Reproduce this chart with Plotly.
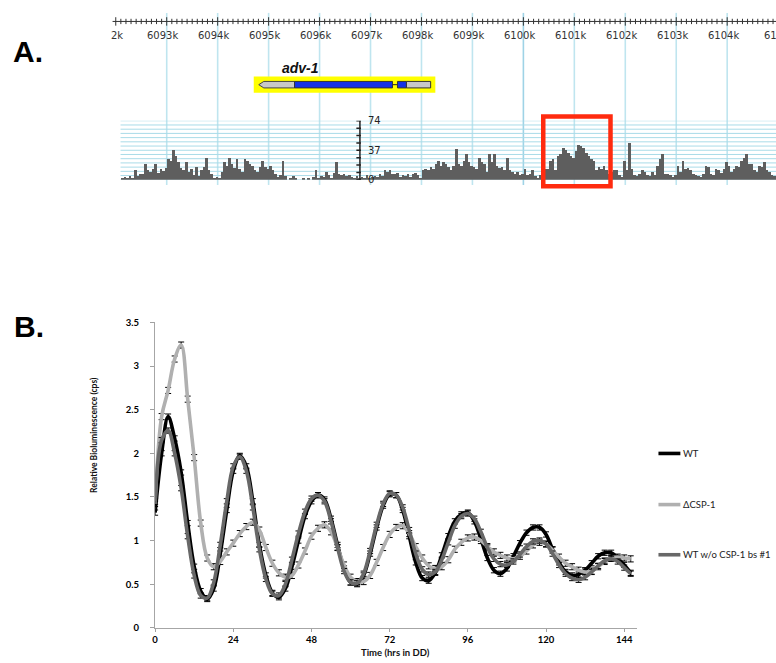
import plotly.graph_objects as go

W, H = 776, 663


def fx(p):
    return p / W


def fy(p):
    return 1 - p / H


# ---------------- Panel A data ----------------
ruler_label_kb = list(range(6093, 6105))
gene_name = "adv-1"
highlight_kb = [6094.708, 6098.272]
utr_left_kb = [6094.806, 6095.509]
exon1_kb = [6095.509, 6097.431]
exon2_kb = [6097.529, 6097.705]
utr_right_kb = [6097.705, 6098.180]
peak_box_kb = [6100.39, 6101.71]

hist_start_kb = 6092.1
hist_bin_kb = 0.05
hist_max = 74
hist_scale_labels = [74, 37, 0]
hist_counts = [
    3, 4, 2, 5, 3, 12, 5, 8, 7, 20,
    12, 10, 14, 20, 9, 14, 11, 15, 26, 24,
    38, 30, 22, 15, 12, 22, 10, 14, 6, 16,
    5, 12, 16, 27, 12, 8, 3, 4, 2, 10,
    22, 18, 27, 20, 15, 26, 14, 10, 26, 24,
    20, 18, 12, 10, 16, 24, 16, 14, 18, 12,
    8, 4, 6, 24, 5, 0, 2, 5, 3, 0,
    0, 3, 0, 2, 0, 4, 12, 3, 5, 4,
    10, 6, 3, 9, 22, 8, 6, 8, 5, 6,
    4, 3, 5, 2, 4, 3, 6, 3, 4, 5,
    4, 8, 5, 12, 10, 12, 7, 8, 9, 4,
    6, 5, 7, 4, 8, 9, 6, 3, 12, 14,
    12, 16, 14, 20, 24, 18, 22,
    20, 16, 12, 18, 39, 20, 18, 24, 32, 22,
    18, 16, 14, 27, 22, 20, 10, 32, 22, 32,
    18, 15, 16, 12, 28, 12, 10, 8, 10, 6,
    8, 14, 6, 8, 12, 5, 3, 6, 8, 14,
    14, 24, 26, 12, 30, 32, 40, 38, 34, 30,
    28, 36, 44, 43, 40, 34, 30, 26, 24, 12,
    16, 14, 18, 12, 8, 10, 12, 12, 6, 4,
    24, 12, 47, 14, 6, 5, 8, 12, 10, 6,
    5, 10, 6, 18, 26, 32, 8, 7, 6, 4,
    6, 18, 10, 24, 14, 15, 12, 8, 6, 5,
    4, 8, 18, 16, 8, 6, 14, 12, 9, 14,
    22, 18, 10, 14, 18, 16, 24, 28, 32, 20,
    20, 12, 10, 18, 16, 22, 12, 10, 6, 5,
]

# ---------------- Panel B data ----------------
hours = list(range(0, 147, 2))
x_ticks = [0, 24, 48, 72, 96, 120, 144]
series_names = ["WT", "\u0394CSP-1", "WT w/o CSP-1 bs #1"]
wt = [1.32, 2.00, 2.42, 2.17, 1.78, 1.20, 0.70, 0.42, 0.33, 0.45,
      0.85, 1.35, 1.80, 1.97, 1.85, 1.45, 0.95, 0.60, 0.40, 0.35,
      0.45, 0.70, 1.00, 1.28, 1.45, 1.52, 1.47, 1.25, 0.95, 0.68,
      0.52, 0.50, 0.60, 0.85, 1.15, 1.40, 1.53, 1.52, 1.35, 1.05,
      0.75, 0.57, 0.54, 0.63, 0.83, 1.05, 1.22, 1.30, 1.32, 1.22,
      1.02, 0.80, 0.66, 0.62, 0.68, 0.82, 0.97, 1.09, 1.15, 1.15,
      1.07, 0.90, 0.75, 0.64, 0.60, 0.61, 0.66, 0.74, 0.82, 0.86,
      0.86, 0.80, 0.72, 0.63]
dcsp = [1.45, 2.42, 2.72, 3.08, 3.24, 2.62, 1.95, 1.20, 0.80, 0.70,
        0.76, 0.87, 0.97, 1.08, 1.16, 1.21, 1.12, 0.92, 0.74, 0.63,
        0.58, 0.60, 0.72, 0.88, 1.05, 1.14, 1.18, 1.10, 0.92, 0.72,
        0.58, 0.53, 0.53, 0.60, 0.75, 0.92, 1.07, 1.15, 1.17, 1.08,
        0.93, 0.80, 0.71, 0.68, 0.70, 0.78, 0.90, 0.98, 1.03, 1.04,
        1.00, 0.93, 0.87, 0.83, 0.80, 0.79, 0.82, 0.88, 0.95, 0.98,
        0.96, 0.89, 0.81, 0.74, 0.70, 0.66, 0.64, 0.65, 0.70, 0.76,
        0.80, 0.81, 0.80, 0.79]
bs1 = [1.42, 2.15, 2.26, 2.00, 1.60, 1.05, 0.60, 0.37, 0.34, 0.52,
       0.95, 1.45, 1.85, 1.96, 1.80, 1.38, 0.90, 0.56, 0.39, 0.37,
       0.50, 0.78, 1.08, 1.33, 1.48, 1.52, 1.45, 1.22, 0.92, 0.65,
       0.52, 0.51, 0.62, 0.88, 1.18, 1.42, 1.54, 1.52, 1.38, 1.12,
       0.85, 0.67, 0.61, 0.64, 0.78, 0.98, 1.17, 1.28, 1.31, 1.25,
       1.10, 0.92, 0.79, 0.73, 0.72, 0.76, 0.84, 0.93, 0.99, 1.00,
       0.96, 0.85, 0.72, 0.62, 0.57, 0.55, 0.58, 0.64, 0.71, 0.77,
       0.79, 0.76, 0.69, 0.62]
err_wt = 0.03
err_dcsp = 0.035
err_bs1 = 0.03

assert len(wt) == len(hours) == len(dcsp) == len(bs1)

# ---------------- styles ----------------
C_WT, C_DCSP, C_BS1 = "#000000", "#b0b0b0", "#686868"
GRID_V = "#bfe5ef"
GRID_H = "#a9dbe8"
GENE_GRAY = "#c8c8c8"
GENE_BLUE = "#1432e6"
FONT_B = "Lato"
RULER_FONT = dict(family="DejaVu Sans", size=10, color="#333333")

# panel A pixel scale (layout only)
KB0, PX0, PX_PER_KB = 6092.0, 113.2, 51.15


def kb_at(p):
    return KB0 + (p - PX0) / PX_PER_KB


fig = go.Figure()

# histogram bars
fig.add_trace(go.Bar(
    x=[hist_start_kb + hist_bin_kb * (i + 0.5) for i in range(len(hist_counts))],
    y=hist_counts, width=hist_bin_kb,
    marker=dict(color="#5e5e5e", line=dict(width=0)),
    xaxis="x2", yaxis="y2", showlegend=False, hoverinfo="skip",
))

colors = [C_WT, C_DCSP, C_BS1]
errs = [err_wt, err_dcsp, err_bs1]
for name, ys, col, er in zip(series_names, [wt, dcsp, bs1], colors, errs):
    fig.add_trace(go.Scatter(
        x=hours, y=ys, name=name, mode="lines",
        line=dict(color=col, width=3.6, shape="spline", smoothing=1.0),
        error_y=dict(type="constant", value=er, color="#000000", thickness=1, width=3),
        xaxis="x", yaxis="y", showlegend=False,
    ))

shapes = []
# vertical kb lines
for k in ruler_label_kb:
    shapes.append(dict(type="line", xref="x2", yref="paper", x0=k, x1=k,
                       y0=fy(7), y1=fy(182), layer="below",
                       line=dict(color="#9fd3e6" if k == 6100 else GRID_V, width=1.6)))
# horizontal histogram grid
n_h = 14
for i in range(n_h + 1):
    v = hist_max * i / n_h
    shapes.append(dict(type="line", xref="paper", yref="y2", x0=fx(118), x1=1,
                       y0=v, y1=v, layer="below", line=dict(color=GRID_H, width=1)))
# ruler
shapes.append(dict(type="line", xref="paper", yref="paper", x0=fx(110), x1=1,
                   y0=fy(15.7), y1=fy(15.7), line=dict(color="#333333", width=1)))
for i in range(0, 130):
    k = 6092 + i * 0.1
    major = (i % 10 == 0)
    shapes.append(dict(type="line", xref="x2", yref="paper", x0=k, x1=k,
                       y0=fy(20 if major else 18.4), y1=fy(11.4 if major else 13.0),
                       line=dict(color="#333333", width=1)))
# gene model
shapes.append(dict(type="rect", xref="x2", yref="paper",
                   x0=highlight_kb[0], x1=highlight_kb[1], y0=fy(88.3), y1=fy(71.7),
                   fillcolor="#ffff00", line=dict(width=0)))
a, b = utr_left_kb
tip = 0.1
shapes.append(dict(type="path", xref="x2", yref="paper",
                   path=f"M {a},{fy(80)} L {a + tip},{fy(76.7)} L {b},{fy(76.7)} "
                        f"L {b},{fy(83.3)} L {a + tip},{fy(83.3)} Z",
                   fillcolor=GENE_GRAY, line=dict(color="#444444", width=1)))
shapes.append(dict(type="line", xref="x2", yref="paper", x0=exon1_kb[1], x1=exon2_kb[0],
                   y0=fy(80), y1=fy(80), line=dict(color="#222222", width=1)))
for seg, col in [(exon1_kb, GENE_BLUE), (exon2_kb, GENE_BLUE), (utr_right_kb, GENE_GRAY)]:
    shapes.append(dict(type="rect", xref="x2", yref="paper", x0=seg[0], x1=seg[1],
                       y0=fy(83.3), y1=fy(76.7), fillcolor=col,
                       line=dict(color="#333333", width=1)))
# scale bar of histogram
scale_bar_kb = 6096.792
shapes.append(dict(type="line", xref="x2", yref="y2", x0=scale_bar_kb, x1=scale_bar_kb,
                   y0=0, y1=hist_max, line=dict(color="#222222", width=1.5)))
for i in range(9):
    v = hist_max * i / 8
    shapes.append(dict(type="line", xref="x2", yref="y2", x0=scale_bar_kb - 0.07,
                       x1=scale_bar_kb + 0.02, y0=v, y1=v,
                       line=dict(color="#222222", width=1.5)))
# red highlight box
shapes.append(dict(type="rect", xref="x2", yref="paper", x0=peak_box_kb[0], x1=peak_box_kb[1],
                   y0=fy(183.4), y1=fy(112.3), line=dict(color="#ff2b0f", width=4.5),
                   fillcolor="rgba(0,0,0,0)"))
# legend lines
leg_y = [455, 507, 558]
for col, yy in zip(colors, leg_y):
    shapes.append(dict(type="line", xref="paper", yref="paper", x0=fx(658), x1=fx(680),
                       y0=fy(yy), y1=fy(yy), line=dict(color=col, width=3.6)))

ann = []
# partial labels at the cropped ends of the ruler, as in the reference
ann.append(dict(text="2k", x=6092.18, y=fy(30), xref="x2", yref="paper", xanchor="right",
                yanchor="middle", showarrow=False, font=RULER_FONT))
ann.append(dict(text="61", x=6104.69, y=fy(30), xref="x2", yref="paper", xanchor="left",
                yanchor="middle", showarrow=False, font=RULER_FONT))
for k in ruler_label_kb:
    ann.append(dict(text=f"{k}k", x=k - 0.075, y=fy(30), xref="x2", yref="paper",
                    xanchor="center", yanchor="middle", showarrow=False, font=RULER_FONT))
ann.append(dict(text=f"<b><i>{gene_name}</i></b>", x=6095.62, y=fy(63), xref="x2", yref="paper",
                xanchor="center", yanchor="middle", showarrow=False,
                font=dict(family="Liberation Sans", size=14, color="#111111")))
for v in hist_scale_labels:
    ann.append(dict(text=str(v), x=scale_bar_kb + 0.12, y=v, xref="x2", yref="y2",
                    xanchor="left", yanchor="middle", showarrow=False,
                    font=dict(family="DejaVu Sans", size=10, color="#222222")))
ann.append(dict(text="<b>A.</b>", x=fx(8), y=fy(46), xref="paper", yref="paper",
                xanchor="left", yanchor="middle", showarrow=False,
                font=dict(family="Liberation Sans", size=30, color="#000000")))
ann.append(dict(text="<b>B.</b>", x=fx(9), y=fy(326), xref="paper", yref="paper",
                xanchor="left", yanchor="middle", showarrow=False,
                font=dict(family="Liberation Sans", size=30, color="#000000")))
for name, yy in zip(series_names, leg_y):
    ann.append(dict(text=name, x=fx(681), y=fy(yy), xref="paper", yref="paper",
                    xanchor="left", yanchor="middle", showarrow=False,
                    font=dict(family=FONT_B, size=9.5, color="#222222")))
ann.append(dict(text="<b>Time (hrs in DD)</b>", x=fx(394.5), y=fy(657), xref="paper",
                yref="paper", xanchor="center", yanchor="middle", showarrow=False,
                font=dict(family=FONT_B, size=9.5, color="#111111")))
ann.append(dict(text="<b>Relative Bioluminescence (cps)</b>", x=fx(92), y=fy(436.5),
                xref="paper", yref="paper", xanchor="center", yanchor="middle",
                textangle=-90, showarrow=False,
                font=dict(family=FONT_B, size=8.5, color="#111111")))

tickfont = dict(family=FONT_B, size=9.5, color="#000000", weight="bold")
fig.update_layout(
    width=W, height=H, autosize=False,
    margin=dict(l=0, r=0, t=0, b=0, pad=0),
    paper_bgcolor="white", plot_bgcolor="rgba(0,0,0,0)",
    showlegend=False, bargap=0,
    xaxis=dict(domain=[fx(152.7), fx(636.7)], range=[0, 148], anchor="y",
               tickvals=x_ticks, ticks="outside", ticklen=3, tickcolor="#a0a0a0",
               showline=True, linecolor="#a6a6a6", linewidth=1.2,
               showgrid=False, zeroline=False, tickfont=tickfont),
    yaxis=dict(domain=[fy(632.3), fy(321.7)], range=[0, 3.5], anchor="x",
               dtick=0.5, tick0=0, ticks="outside", ticklen=4, tickcolor="#a0a0a0",
               showline=True, linecolor="#a6a6a6", linewidth=1.2,
               showgrid=False, zeroline=False, tickfont=tickfont, ticklabelstandoff=9),
    xaxis2=dict(domain=[fx(110), 1], range=[kb_at(110), kb_at(776)], anchor="y2",
                showgrid=False, showticklabels=False, showline=False, zeroline=False,
                ticks=""),
    yaxis2=dict(domain=[fy(176.7), fy(116.7)], range=[0, hist_max], anchor="x2",
                showgrid=False, showticklabels=False, showline=False, zeroline=False,
                ticks=""),
    shapes=shapes, annotations=ann,
)

fig.write_html("out.html")
